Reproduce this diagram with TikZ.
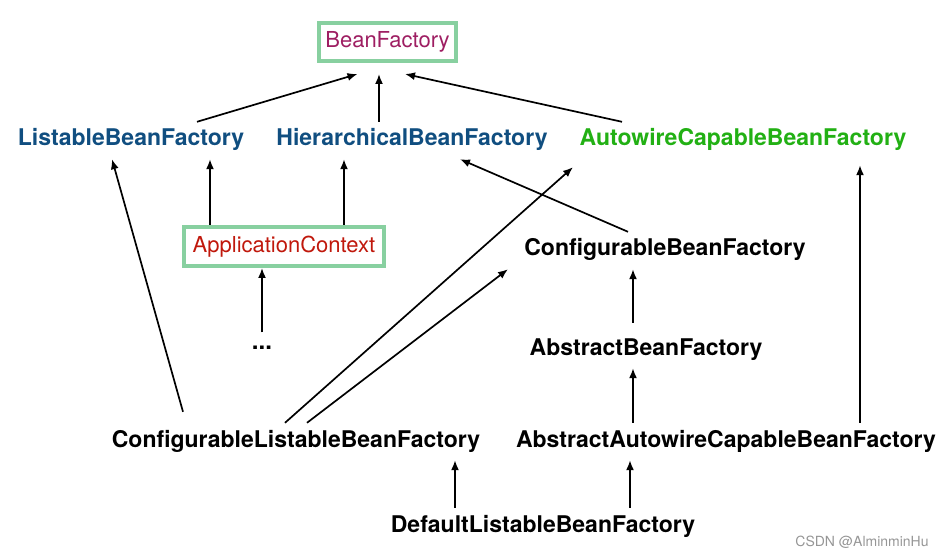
\documentclass[tikz,border=0pt]{standalone}
\usepackage{fontspec}
\setmainfont{TeX Gyre Heros}
\usepackage{tikz}
\usetikzlibrary{arrows.meta}

\definecolor{boxgreen}{RGB}{136,208,160}
\definecolor{bfmagenta}{RGB}{158,30,98}
\definecolor{acred}{RGB}{192,24,12}
\definecolor{ifblue}{RGB}{16,78,128}
\definecolor{awgreen}{RGB}{34,176,20}
\definecolor{wmgray}{RGB}{150,150,150}

\begin{document}
\begin{tikzpicture}[x=1pt,y=1pt,
		cls/.style={anchor=base,inner xsep=0pt,inner ysep=8pt,text height=16pt,text depth=5pt,
			font=\bfseries\fontsize{23}{27}\selectfont},
		iface/.style={cls,text=ifblue},
		keybox/.style={draw=boxgreen,line width=4pt,inner sep=0pt,
			font=\fontsize{22}{26}\selectfont},
		>={Latex[length=10pt,width=8pt]}]
	\useasboundingbox (0,0) rectangle (948,555);
	%% define boxed nodes
	\node (bf) at (387.5,513) [keybox,text=bfmagenta,minimum width=137pt,minimum height=38pt] {BeanFactory};
	\node (ac) at (284,308.5) [keybox,text=acred,minimum width=200pt,minimum height=39pt] {ApplicationContext};
	%% define interfaces
	\node (lbf) at (131,409) [iface] {ListableBeanFactory};
	\node (hbf) at (412,409) [iface] {HierarchicalBeanFactory};
	\node (acbf) at (743,409) [cls,text=awgreen] {AutowireCapableBeanFactory};
	\node (cbf) at (665,299) [cls] {ConfigurableBeanFactory};
	\node (dots) at (262,205) [anchor=base,inner xsep=0pt,inner ysep=14pt,font=\bfseries\fontsize{24}{27}\selectfont] {...};
	%% define classes
	\node (abf) at (646,200) [cls] {AbstractBeanFactory};
	\node (clbf) at (296,108) [cls] {ConfigurableListableBeanFactory};
	\node (aacbf) at (726,108) [cls] {AbstractAutowireCapableBeanFactory};
	\node (dlbf) at (543,23) [cls] {DefaultListableBeanFactory};
	\node (wm) at (862,9) [anchor=base,inner sep=0pt,text=wmgray,font=\fontsize{14}{16}\selectfont] {CSDN @AlminminHu};
	%% define arrows
	\begin{scope}[line width=1.7pt]
	\draw[->] ([xshift=66pt]lbf.north) -- ([xshift=-30pt,yshift=-11pt]bf.south);
	\draw[->] ([xshift=-33pt]hbf.north) -- ([xshift=-8.5pt,yshift=-11pt]bf.south);
	\draw[->] ([xshift=-121pt]acbf.north) -- ([xshift=17.5pt,yshift=-11pt]bf.south);
	\draw[->] ([xshift=-74pt]ac.north) -- ([xshift=79pt]lbf.south);
	\draw[->] ([xshift=60pt]ac.north) -- ([xshift=-68pt]hbf.south);
	\draw[->] (dots.north) -- ([xshift=-22pt]ac.south);
	\draw[->] ([xshift=-113pt,yshift=11pt]clbf.north) -- ([xshift=-19pt]lbf.south);
	\draw[->] ([xshift=-11pt]clbf.north) -- ([xshift=-170pt,yshift=-8pt]acbf.south);
	\draw[->] ([xshift=11pt]clbf.north) -- ([xshift=-157pt]cbf.south);
	\draw[->] ([xshift=-37pt]cbf.north) -- ([xshift=48pt]hbf.south);
	\draw[->] ([xshift=-13pt,yshift=8pt]abf.north) -- ([xshift=-32pt]cbf.south);
	\draw[->] ([xshift=-93pt]aacbf.north) -- ([xshift=-13pt]abf.south);
	\draw[->] ([xshift=134pt]aacbf.north) -- ([xshift=117pt,yshift=-6pt]acbf.south);
	\draw[->] ([xshift=-88pt]dlbf.north) -- ([xshift=159pt]clbf.south);
	\draw[->] ([xshift=87pt]dlbf.north) -- ([xshift=-96pt]aacbf.south);
	\end{scope}
\end{tikzpicture}
\end{document}
